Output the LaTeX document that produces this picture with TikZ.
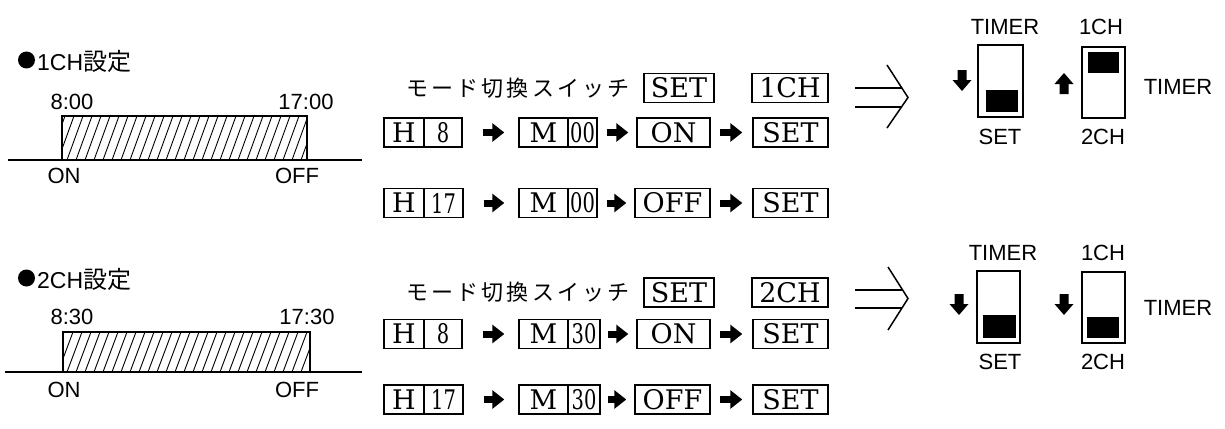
\documentclass[tikz,border=0pt]{standalone}
\usepackage{fontspec}
\setsansfont{Liberation Sans}
\newfontfamily\cellfont{DejaVu Serif}
\newfontfamily\jp{Noto Sans CJK JP}
\newfontfamily\jpw[LetterSpace=14]{Noto Sans CJK JP}
\usetikzlibrary{arrows.meta}
\newcommand\fatdn[2]{\fill[shift={(#1,#2)}] (-4.5,0) -- (4.5,0) -- (4.5,10) -- (9.5,10) -- (0,21) -- (-9.5,10) -- (-4.5,10) -- cycle;}
\newcommand\fatup[2]{\fill[shift={(#1,#2)}] (-4.5,0) -- (4.5,0) -- (4.5,-10) -- (9.5,-10) -- (0,-21) -- (-9.5,-10) -- (-4.5,-10) -- cycle;}
\newcommand\dg[1]{\scalebox{0.72}[1]{#1}}
\begin{document}
\begin{tikzpicture}[x=1pt,y=-1pt,
  lab/.style={font=\sffamily\fontsize{22}{22}\selectfont, inner sep=0pt},
  head/.style={font=\sffamily\fontsize{23}{23}\selectfont, inner sep=0pt, anchor=west},
  cell/.style={draw, line width=1.4pt, minimum height=29pt, inner sep=0pt, font=\cellfont\fontsize{27}{27}\selectfont},
  numcell/.style={cell},
  jpl/.style={font=\jpw\fontsize{22}{22}\selectfont, inner sep=0pt},
  fat/.style={line width=7pt, -{Triangle[length=12pt,width=18pt]}},
  axis/.style={line width=1.3pt},
  bar/.style={line width=1.4pt},
  hatch/.style={line width=0.9pt},
  sw/.style={line width=1.5pt},
  dbl/.style={line width=1.5pt, line join=miter}]
\fill[white] (0,0) rectangle (1225,428);
\useasboundingbox (0,0) rectangle (1225,428);

% ---------- Group 1 : left ----------
\fill (26.5,60) circle (8.5);
\node[head] (t1) at (37,61) {1CH{\jp\fontsize{24}{24}\selectfont 設定}};
\draw[axis] (8,160) -- (362,160);
\begin{scope}
  \clip (62,116) rectangle (307,160);
  \foreach \x in {40,49,...,310} \draw[hatch] (\x,160) -- (\x+16,116);
\end{scope}
\draw[bar] (62,160) -- (62,116) -- (307,116) -- (307,160);
\node[lab] (a1) at (72,102) {8:00};
\node[lab] (b1) at (306,102) {17:00};
\node[lab] (c1) at (64,176) {ON};
\node[lab] (d1) at (297,176) {OFF};

% ---------- Group 1 : middle ----------
\node[jpl] (j1) at (518,88) {モード切換スイッチ};
\node[cell, minimum width=70pt] (ms1) at (679,88) {SET};
\node[cell, minimum width=76pt] (mc1) at (790,88) {1CH};

\node[cell, minimum width=40pt] (ha1) at (404,132.5) {H};
\node[numcell, minimum width=38pt] (hb1) at (443,132.5) {\dg{8}};
\node[cell, minimum width=49pt] (ma1) at (543.5,132.5) {M};
\node[numcell, minimum width=29pt] (mb1) at (582.5,132.5) {\dg{00}};
\node[cell, minimum width=73pt] (on1) at (673.5,132.5) {ON};
\node[cell, minimum width=75pt] (st1) at (790.5,132.5) {SET};
\draw[fat, shorten <=20pt, shorten >=14pt] (hb1.east) -- (ma1.west);
\draw[fat, shorten <=9pt, shorten >=8pt] (mb1.east) -- (on1.west);
\draw[fat, shorten <=9pt, shorten >=10pt] (on1.east) -- (st1.west);

\node[cell, minimum width=40pt] (ha2) at (404,203) {H};
\node[numcell, minimum width=39pt] (hb2) at (443.5,203) {\dg{17}};
\node[cell, minimum width=49pt] (ma2) at (543.5,203) {M};
\node[numcell, minimum width=29pt] (mb2) at (582.5,203) {\dg{00}};
\node[cell, minimum width=75pt] (of2) at (672.5,203) {OFF};
\node[cell, minimum width=75pt] (st2) at (790.5,203) {SET};
\draw[fat, shorten <=20pt, shorten >=14pt] (hb2.east) -- (ma2.west);
\draw[fat, shorten <=9pt, shorten >=8pt] (mb2.east) -- (of2.west);
\draw[fat, shorten <=9pt, shorten >=10pt] (of2.east) -- (st2.west);

% ---------- Group 1 : right ----------
\draw[dbl] (855,88) -- (902,88);
\draw[dbl] (855,107) -- (901,107);
\draw[dbl] (887,65) -- (908,97.5) -- (887,128);
\node[lab] (r1) at (1005,27) {TIMER};
\node[lab] (r2) at (1000,137) {SET};
\draw[sw] (978,45) rectangle (1023,117);
\fill (986,90) rectangle (1018,112);
\fatdn{962}{70}
\node[lab] (r3) at (1101,27) {1CH};
\node[lab] (r4) at (1103,137) {2CH};
\draw[sw] (1082,47) rectangle (1125,118);
\fill (1088,52) rectangle (1119,73);
\fatup{1064}{94}
\node[lab] (r5) at (1178,87) {TIMER};

% ---------- Group 2 : left ----------
\fill (26.5,278) circle (8.5);
\node[head] (t2) at (37,279) {2CH{\jp\fontsize{24}{24}\selectfont 設定}};
\draw[axis] (5,372) -- (362,372);
\begin{scope}
  \clip (63,332) rectangle (310,372);
  \foreach \x in {40,49,...,315} \draw[hatch] (\x,372) -- (\x+15,332);
\end{scope}
\draw[bar] (63,372) -- (63,332) -- (310,332) -- (310,372);
\node[lab] (a2) at (72,317) {8:30};
\node[lab] (b2) at (307,317) {17:30};
\node[lab] (c2) at (64,390) {ON};
\node[lab] (d2) at (297,390) {OFF};

% ---------- Group 2 : middle ----------
\node[jpl] (j2) at (518,292.5) {モード切換スイッチ};
\node[cell, minimum width=70pt] (ms2) at (679,292.5) {SET};
\node[cell, minimum width=76pt] (mc2) at (790,292.5) {2CH};

\node[cell, minimum width=40pt] (ha3) at (404,334) {H};
\node[numcell, minimum width=38pt] (hb3) at (443,334) {\dg{8}};
\node[cell, minimum width=49pt] (ma3) at (543.5,334) {M};
\node[numcell, minimum width=32pt] (mb3) at (584,334) {\dg{30}};
\node[cell, minimum width=73pt] (on3) at (673.5,334) {ON};
\node[cell, minimum width=75pt] (st3) at (790.5,334) {SET};
\draw[fat, shorten <=20pt, shorten >=14pt] (hb3.east) -- (ma3.west);
\draw[fat, shorten <=7pt, shorten >=8pt] (mb3.east) -- (on3.west);
\draw[fat, shorten <=9pt, shorten >=10pt] (on3.east) -- (st3.west);

\node[cell, minimum width=40pt] (ha4) at (404,399.5) {H};
\node[numcell, minimum width=39pt] (hb4) at (443.5,399.5) {\dg{17}};
\node[cell, minimum width=49pt] (ma4) at (543.5,399.5) {M};
\node[numcell, minimum width=32pt] (mb4) at (584,399.5) {\dg{30}};
\node[cell, minimum width=75pt] (of4) at (672.5,399.5) {OFF};
\node[cell, minimum width=75pt] (st4) at (790.5,399.5) {SET};
\draw[fat, shorten <=20pt, shorten >=14pt] (hb4.east) -- (ma4.west);
\draw[fat, shorten <=7pt, shorten >=8pt] (mb4.east) -- (of4.west);
\draw[fat, shorten <=9pt, shorten >=10pt] (of4.east) -- (st4.west);

% ---------- Group 2 : right ----------
\draw[dbl] (855,290) -- (902,290);
\draw[dbl] (855,308) -- (902,308);
\draw[dbl] (888,267) -- (908,298.5) -- (888,330);
\node[lab] (s1) at (1003,253) {TIMER};
\node[lab] (s2) at (1000,362) {SET};
\draw[sw] (977,271) rectangle (1020,343);
\fill (983,315) rectangle (1016,338);
\fatdn{959}{294}
\node[lab] (s3) at (1103,253) {1CH};
\node[lab] (s4) at (1103,362) {2CH};
\draw[sw] (1082,272) rectangle (1125,343);
\fill (1087,317) rectangle (1119,338);
\fatdn{1064}{294}
\node[lab] (s5) at (1178,308) {TIMER};
\end{tikzpicture}
\end{document}
